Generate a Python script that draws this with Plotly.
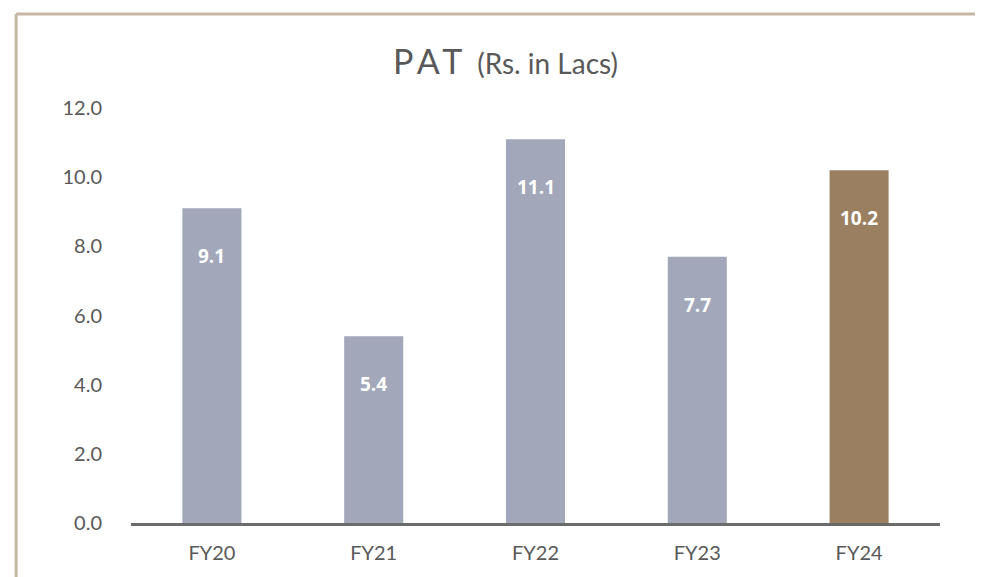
import plotly.graph_objects as go

categories = ["FY20", "FY21", "FY22", "FY23", "FY24"]
values = [9.1, 5.4, 11.1, 7.7, 10.2]
labels = ["9.1", "5.4", "11.1", "7.7", "10.2"]
colors = ["#A2A7BA", "#A2A7BA", "#A2A7BA", "#A2A7BA", "#9A8061"]
y_ticks = [0, 2, 4, 6, 8, 10, 12]
y_tick_labels = ["0.0", "2.0", "4.0", "6.0", "8.0", "10.0", "12.0"]

fig = go.Figure()
fig.add_trace(go.Bar(x=categories, y=values, marker=dict(color=colors, line=dict(width=0)),
                     width=0.365, hoverinfo="skip"))

for c, v, t in zip(categories, values, labels):
    fig.add_annotation(x=c, y=v, text=t, showarrow=False, yshift=-48, yanchor="middle",
                       font=dict(family="Open Sans", size=19, color="white", weight="bold"))

fig.add_annotation(xref="paper", yref="paper", x=0.463, y=1.0, yshift=25, yanchor="bottom",
                   text="<span style='font-size:34px;letter-spacing:5px'>PAT</span>  <span style='font-size:28px'>(Rs. in Lacs)</span>",
                   showarrow=False, font=dict(family="Lato", color="#595959"))

# frame lines
fig.add_shape(type="line", xref="paper", yref="paper", x0=-0.142, x1=1.25, y0=1.2265, y1=1.2265,
              line=dict(color="#C5B7A3", width=3))
fig.add_shape(type="line", xref="paper", yref="paper", x0=-0.142, x1=-0.142, y0=1.2265, y1=-0.2,
              line=dict(color="#C5B7A3", width=3))

fig.update_layout(
    width=983, height=577,
    margin=dict(l=123, r=51, t=100, b=62),
    plot_bgcolor="white", paper_bgcolor="white",
    showlegend=False,
    font=dict(family="Lato", color="#595959", size=19),
    xaxis=dict(showline=True, linecolor="#6B6B6B", linewidth=3, ticks="", showgrid=False,
               ticklabelstandoff=10, tickfont=dict(size=20, color="#595959")),
    yaxis=dict(range=[0, 12], tickvals=y_ticks, ticktext=y_tick_labels, showgrid=False,
               zeroline=False, showline=False, ticks="", ticklabelstandoff=28,
               tickfont=dict(size=20, color="#595959")),
)

fig.write_html("out.html")
